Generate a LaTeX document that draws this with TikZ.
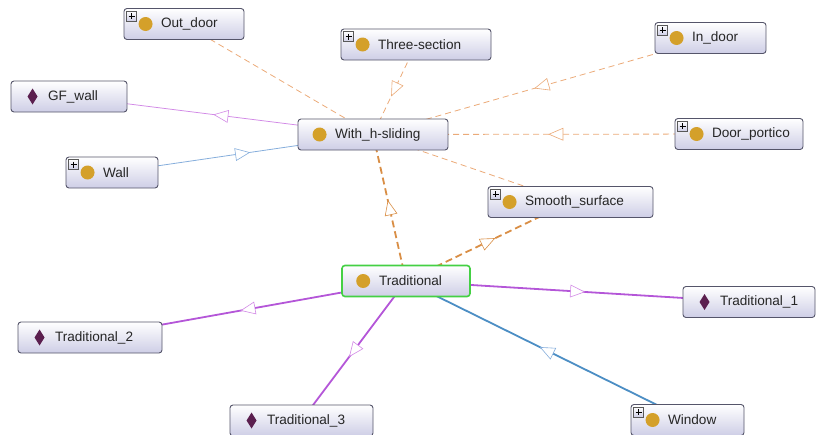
\documentclass[tikz,border=0pt]{standalone}
\usepackage{fontspec}
\setmainfont{Liberation Sans}
\usetikzlibrary{decorations.markings}
\pgfdeclarelayer{background}
\pgfsetlayers{background,main}

\definecolor{boxbot}{HTML}{CECEE6}
\definecolor{boxedge}{HTML}{55556A}
\definecolor{clsgold}{HTML}{D4A02A}
\definecolor{indpurp}{HTML}{5B1F4F}
\definecolor{dashor}{HTML}{EBAA78}
\definecolor{dashdk}{HTML}{D98E45}
\definecolor{ltviolet}{HTML}{D28AE6}
\definecolor{ltblue}{HTML}{86AEDC}
\definecolor{purp}{HTML}{B456D8}
\definecolor{blu}{HTML}{4C8EC4}
\definecolor{selgreen}{HTML}{44D044}

\newcommand{\boxtext}[2]{\makebox[#1pt][l]{\hspace*{37pt}#2}}
\newcommand{\clsdot}[1]{\fill[clsgold] ([xshift=22pt]#1.west) circle (7pt);}
\newcommand{\inddia}[1]{\fill[indpurp] ([xshift=22pt]#1.west) +(0,8pt) -- +(5pt,0) -- +(0,-8pt) -- +(-5pt,0) -- cycle;}
\newcommand{\expbox}[1]{%
  \draw[gray!70!black, line width=0.5pt, top color=white, bottom color=boxbot]
    ([xshift=3pt,yshift=-3pt]#1.north west) rectangle +(10pt,-10pt);
  \draw[line width=0.9pt]
    ([xshift=5pt,yshift=-8pt]#1.north west) -- +(6pt,0)
    ([xshift=8pt,yshift=-5pt]#1.north west) -- +(0,-6pt);}

\tikzset{
  ent/.style={draw=boxedge, rounded corners=3pt, line width=0.9pt,
    top color=white, bottom color=boxbot, minimum height=31pt,
    inner xsep=0pt, inner ysep=0pt, text=black!85,
    font=\fontsize{13.6}{15}\selectfont},
  mid tri/.style={postaction={decorate}, decoration={markings,
    mark=at position 0.5 with {\draw[solid, line width=0.6pt, draw=#1, fill=white]
      (7pt,0) -- (-7pt,6pt) -- (-7pt,-6pt) -- cycle;}}},
  lodash/.style={draw=dashor, line width=0.8pt, dash pattern=on 6pt off 4pt},
  hidash/.style={draw=dashdk, line width=1.8pt, dash pattern=on 7pt off 4pt, mid tri=dashdk},
  thinviolet/.style={draw=ltviolet, line width=0.8pt, mid tri=ltviolet},
  thinblue/.style={draw=ltblue, line width=0.8pt, mid tri=ltblue},
  thickpurp/.style={draw=purp, line width=1.8pt, mid tri=ltviolet},
  thickblue/.style={draw=blu, line width=1.8pt, mid tri=ltblue},
}

\begin{document}
\begin{tikzpicture}[x=1pt, y=-1pt]
  \useasboundingbox (0,0) rectangle (817,434);

  % classes and individuals
  \node[ent] (outdoor)  at (184,24)    {\boxtext{120}{Out\_door}};
  \node[ent] (threesec) at (416,44.5)  {\boxtext{150}{Three-section}};
  \node[ent] (indoor)   at (710.5,38)  {\boxtext{111}{In\_door}};
  \node[ent] (gfwall)   at (69,96.5)   {\boxtext{116}{GF\_wall}};
  \node[ent] (hsliding) at (373,134.5) {\boxtext{150}{With\_h-sliding}};
  \node[ent] (portico)  at (739,134)   {\boxtext{128}{Door\_portico}};
  \node[ent] (wall)     at (112,172.5) {\boxtext{92}{Wall}};
  \node[ent] (smooth)   at (570.5,202) {\boxtext{165}{Smooth\_surface}};
  \node[ent, draw=selgreen, line width=1.6pt]
             (trad)     at (406,281)   {\boxtext{128}{Traditional}};
  \node[ent] (tradA)    at (749,302)   {\boxtext{132}{Traditional\_1}};
  \node[ent] (tradB)    at (90,337.5)  {\boxtext{144}{Traditional\_2}};
  \node[ent] (tradC)    at (301.5,420.5) {\boxtext{143}{Traditional\_3}};
  \node[ent] (window)   at (687.5,420) {\boxtext{113}{Window}};

  \foreach \n in {outdoor,threesec,indoor,hsliding,portico,wall,smooth,trad,window}
    {\clsdot{\n}}
  \foreach \n in {gfwall,tradA,tradB,tradC}
    {\inddia{\n}}
  \foreach \n in {outdoor,threesec,indoor,portico,wall,smooth,window}
    {\expbox{\n}}

  % links
  \begin{pgfonlayer}{background}
    \draw[lodash] (outdoor.center) -- (hsliding.center);
    \draw[lodash, mid tri=dashor] (threesec.center) -- (hsliding.center);
    \draw[lodash, mid tri=dashor] (indoor.center) -- (hsliding.center);
    \draw[lodash, mid tri=dashor] (portico.center) -- (hsliding.center);
    \draw[lodash] (smooth.center) -- (hsliding.center);
    \draw[thinviolet] (hsliding.center) -- (gfwall.center);
    \draw[thinblue] (wall.center) -- (hsliding.center);
    \draw[hidash] (trad.center) -- (hsliding.center);
    \draw[hidash] (trad.center) -- (smooth.center);
    \draw[thickpurp] (trad.center) -- (tradA.center);
    \draw[thickpurp] (trad.center) -- (tradB.center);
    \draw[thickpurp] (trad.center) -- (tradC.center);
    \draw[thickblue] (window.center) -- (trad.center);
  \end{pgfonlayer}
\end{tikzpicture}
\end{document}
